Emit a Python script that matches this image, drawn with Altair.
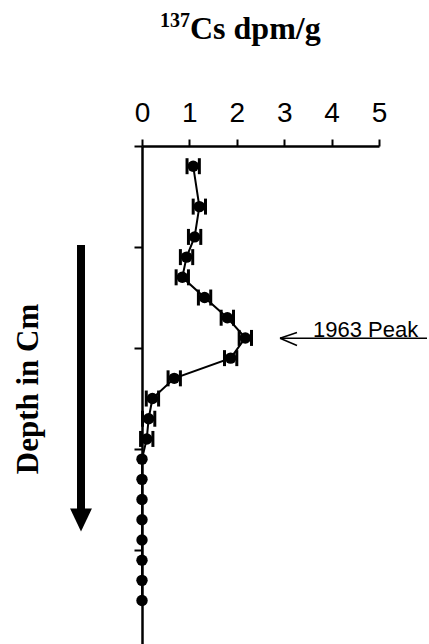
import altair as alt
import pandas as pd

# ---- data ----
depth_cm = [2, 6, 9, 11, 13, 15, 17, 19, 21, 23, 25, 27, 29, 31, 33, 35, 37, 39, 41, 43, 45]
cs137 = [1.08, 1.21, 1.11, 0.94, 0.85, 1.32, 1.80, 2.18, 1.87, 0.68, 0.22, 0.14, 0.10,
         0, 0, 0, 0, 0, 0, 0, 0]
cs_err = [0.13, 0.13, 0.13, 0.13, 0.13, 0.13, 0.13, 0.13, 0.13, 0.13, 0.13, 0.13, 0.13,
          0, 0, 0, 0, 0, 0, 0, 0]
x_ticks = [0, 1, 2, 3, 4, 5]
depth_ticks = [0, 10, 20, 30, 40]
title_sup = "137"
title_main = "Cs dpm/g"
y_label = "Depth in Cm"
peak_label = "1963 Peak"

df = pd.DataFrame({"depth": depth_cm, "cs": cs137, "err": cs_err})

W, H = 237, 498
xs = alt.Scale(domain=[0, 5], nice=False, zero=False)
ys = alt.Scale(domain=[0, 49.3], nice=False, zero=False, reverse=True)

xaxis = alt.Axis(orient="top", values=x_ticks, format="d", title=None, grid=False,
                 labelFont="Liberation Sans", labelFontSize=28, labelColor="black",
                 labelPadding=12, labelFlush=False, labelOverlap=False,
                 tickSize=7, tickWidth=2, tickColor="black",
                 domainColor="black", domainWidth=2.5)
yaxis = alt.Axis(orient="left", values=depth_ticks, labels=False, title=None, grid=False,
                 tickSize=8, tickWidth=2, tickColor="black",
                 domainColor="black", domainWidth=2.5)

X = lambda f: alt.X(f, scale=xs, axis=xaxis)
Y = alt.Y("depth:Q", scale=ys, axis=yaxis)

base = alt.Chart(df)

line = base.mark_line(color="black", strokeWidth=2).encode(
    x=X("cs:Q"), y=Y, order="depth:Q")

errs = base.transform_filter("datum.err > 0").transform_calculate(
    lo="datum.cs - datum.err", hi="datum.cs + datum.err")

err_rule = errs.mark_rule(color="black", strokeWidth=3, opacity=1).encode(
    x=X("lo:Q"), x2="hi:Q", y=Y)
cap_lo = errs.mark_tick(color="black", thickness=3, size=16, orient="vertical",
                        opacity=1).encode(x=X("lo:Q"), y=Y)
cap_hi = errs.mark_tick(color="black", thickness=3, size=16, orient="vertical",
                        opacity=1).encode(x=X("hi:Q"), y=Y)

points = base.mark_circle(size=130, color="black", opacity=1).encode(
    x=X("cs:Q"), y=Y)

one = pd.DataFrame({"k": [0]})

t_sup = alt.Chart(one).mark_text(
    text=title_sup, font="Liberation Serif", fontWeight="bold", fontSize=20,
    align="left", baseline="alphabetic", color="black").encode(
    x=alt.value(18), y=alt.value(-119))
t_main = alt.Chart(one).mark_text(
    text=title_main, font="Liberation Serif", fontWeight="bold", fontSize=32,
    align="left", baseline="alphabetic", color="black").encode(
    x=alt.value(48), y=alt.value(-107.5))
t_depth = alt.Chart(one).mark_text(
    text=y_label, font="Liberation Serif", fontWeight="bold", fontSize=31,
    align="center", baseline="alphabetic", angle=270, color="black").encode(
    x=alt.value(-104), y=alt.value(243))

shaft = alt.Chart(one).mark_rule(color="black", strokeWidth=8, strokeCap="butt").encode(
    x=alt.value(-61), y=alt.value(99), y2=alt.value(366))
head = alt.Chart(one).mark_point(
    shape="M-0.95,-1L0.95,-1L0,1Z", size=529, filled=True, color="black",
    opacity=1, strokeWidth=0).encode(x=alt.value(-61), y=alt.value(374))

peak_txt = alt.Chart(one).mark_text(
    text=peak_label, font="Liberation Sans", fontSize=22,
    align="left", baseline="alphabetic", color="black").encode(
    x=alt.value(171), y=alt.value(190.7))
underline = alt.Chart(one).mark_rule(color="black", strokeWidth=1.5).encode(
    x=alt.value(138), x2=alt.value(285), y=alt.value(192.3))
arrow_a = alt.Chart(one).mark_rule(color="black", strokeWidth=1.5).encode(
    x=alt.value(138), x2=alt.value(155), y=alt.value(192.3), y2=alt.value(186.5))
arrow_b = alt.Chart(one).mark_rule(color="black", strokeWidth=1.5).encode(
    x=alt.value(138), x2=alt.value(155), y=alt.value(192.3), y2=alt.value(199.5))

chart = alt.layer(
    line, err_rule, cap_lo, cap_hi, points,
    t_sup, t_main, t_depth, shaft, head, peak_txt, underline, arrow_a, arrow_b
).properties(
    width=W, height=H,
    autosize=alt.AutoSizeParams(type="none"),
    padding={"left": 142, "top": 146, "right": 50, "bottom": 0},
    background="white",
).configure_view(stroke=None)

chart.save("out.html", embed_options={"renderer": "svg", "actions": False})
